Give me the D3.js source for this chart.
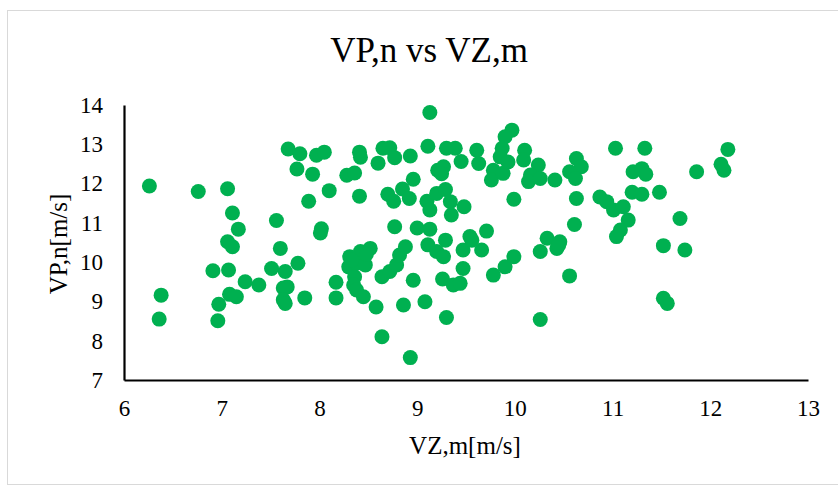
<!DOCTYPE html>
<meta charset="utf-8">
<style>
    body { margin: 0; background: #fff; }
    text { font-family: "Liberation Serif", "Times New Roman", serif; fill: #000; }
</style>
<svg width="838" height="486"></svg>
<script src="https://d3js.org/d3.v7.min.js"></script>
<script>
    // VZ,m values (x) and matching VP,n values (y)
    var vz = [
        6.26, 6.38, 6.36, 6.76, 7.06, 6.91, 7.07, 6.97, 6.96, 7.11, 7.17, 7.06, 7.11, 7.24, 7.38, 7.08, 7.15,
        7.51, 7.56, 7.60, 7.65, 7.67, 7.63, 7.63, 7.65, 7.68, 7.80, 7.77, 7.78, 7.85, 7.89, 7.93, 7.97, 8.05,
        8.01, 8.02, 8.10, 8.17, 8.17, 8.28, 8.36, 8.41, 8.42, 8.41, 8.60, 8.65, 8.72, 8.77, 8.93, 8.96,
        8.70, 8.76, 8.85, 8.92, 8.77,
        8.31, 8.42, 8.52, 8.30, 8.38, 8.47, 8.36, 8.35, 8.38, 8.45, 8.33, 8.48,
        8.58, 8.64, 8.93, 8.64, 8.72, 8.79, 8.82, 8.88, 8.96, 8.86,
        9.00, 9.13, 9.08, 9.30, 9.11, 9.20, 9.27, 9.29, 9.47, 9.47, 9.26, 9.37, 9.44,
        9.13, 9.11, 9.10, 9.13, 9.20, 9.29, 9.34, 9.35, 9.48, 9.21, 9.27, 9.25, 9.30, 9.39, 9.45,
        9.97, 9.90, 9.61, 9.63, 9.87, 9.85, 9.78, 9.76, 9.88, 9.93, 9.99, 9.71, 9.54, 9.56, 9.66,
        9.78, 9.90, 9.99,
        10.10, 10.09, 10.24, 10.16, 10.14, 10.26, 10.41, 10.63, 10.68, 10.56, 10.62, 11.03, 11.21, 11.30,
        11.34, 11.33, 10.63, 10.87, 10.94, 11.01, 11.11, 11.20, 11.30, 11.48, 11.16, 11.08, 11.04, 10.61,
        10.33, 10.46, 10.26, 10.43, 10.45, 10.56, 10.26, 11.69, 11.52, 11.74, 11.52, 11.56, 11.86, 12.11,
        12.14, 12.18
    ];
    var vp = [
        11.94, 9.16, 8.55, 11.80, 11.87, 9.78, 9.80, 8.93, 8.51, 11.25, 10.84, 10.52, 10.39, 9.50, 9.42, 9.18, 9.12,
        9.84, 11.06, 10.35, 9.76, 9.37, 9.34, 9.04, 8.95, 12.88, 12.76, 12.37, 9.97, 9.09, 11.55, 12.24, 12.72, 12.80,
        10.74, 10.85, 11.82, 9.49, 9.09, 12.21, 12.27, 12.80, 12.67, 11.68, 12.52, 12.90, 12.91, 12.66, 12.70, 12.11,
        11.73, 11.55, 11.86, 11.62, 10.90,
        10.14, 10.27, 10.35, 9.88, 9.97, 9.93, 9.63, 9.42, 9.29, 9.12, 10.05, 10.20,
        8.86, 8.10, 7.57, 9.63, 9.76, 9.93, 10.18, 10.39, 9.54, 8.91,
        10.87, 10.84, 8.99, 8.59, 10.44, 10.27, 10.14, 10.56, 10.31, 9.84, 9.57, 9.42, 9.46,
        13.81, 12.95, 11.55, 11.33, 11.75, 11.85, 11.54, 11.20, 11.41, 12.34, 12.43, 12.25, 12.90, 12.90, 12.56,
        13.36, 13.19, 12.85, 12.51, 12.90, 12.68, 12.34, 12.09, 12.26, 12.55, 11.60, 10.79, 10.65, 10.56, 10.31,
        9.67, 9.88, 10.14,
        12.85, 12.60, 12.47, 12.22, 12.05, 12.13, 12.09, 12.64, 12.43, 12.30, 12.13, 12.90, 12.30, 12.38,
        12.24, 12.90, 11.62, 11.66, 11.54, 11.33, 11.41, 11.78, 11.73, 11.78, 11.07, 10.82, 10.65, 10.96,
        10.61, 10.52, 10.27, 10.35, 10.44, 9.65, 8.54, 11.11, 10.42, 10.31, 9.08, 8.95, 12.30, 12.49,
        12.34, 12.87
    ];
    var xTicks = [6, 7, 8, 9, 10, 11, 12, 13];
    var yTicks = [7, 8, 9, 10, 11, 12, 13, 14];

    var svg = d3.select("svg");

    var margin = {left: 124, right: 808, top: 105, bottom: 380};
    var serif = "Liberation Serif, Times New Roman, serif";

    // light chart-area border
    svg.append("rect")
        .attr("x", 7.5).attr("y", 10.5)
        .attr("width", 840).attr("height", 474)
        .attr("fill", "#fff")
        .attr("stroke", "#d9d9d9");

    var x = d3.scaleLinear().domain([6, 13]).range([margin.left, margin.right]);
    var y = d3.scaleLinear().domain([7, 14]).range([margin.bottom, margin.top]);

    var xAxis = svg.append("g")
        .attr("transform", "translate(0," + margin.bottom + ")")
        .call(d3.axisBottom(x).tickValues(xTicks).tickFormat(d3.format("d")).tickSize(0).tickPadding(20));
    var yAxis = svg.append("g")
        .attr("transform", "translate(" + margin.left + ",0)")
        .call(d3.axisLeft(y).tickValues(yTicks).tickFormat(d3.format("d")).tickSize(0).tickPadding(21));

    [xAxis, yAxis].forEach(function (a) {
        a.attr("font-family", serif).attr("font-size", 23);
        a.select(".domain").attr("stroke", "#000").attr("stroke-width", 2.2);
        a.selectAll("text").attr("fill", "#000");
    });

    // points
    svg.append("g")
        .selectAll("circle")
        .data(vz.map(function (d, i) { return [d, vp[i]]; }))
        .enter().append("circle")
        .attr("cx", function (d) { return x(d[0]); })
        .attr("cy", function (d) { return y(d[1]); })
        .attr("r", 7.5)
        .attr("fill", "#00b050");

    // titles
    svg.append("text")
        .attr("x", 429).attr("y", 62)
        .attr("text-anchor", "middle")
        .attr("font-family", serif)
        .attr("font-size", 35)
        .text("VP,n vs VZ,m");

    svg.append("text")
        .attr("x", 465).attr("y", 454)
        .attr("text-anchor", "middle")
        .attr("font-family", serif)
        .attr("font-size", 25)
        .text("VZ,m[m/s]");

    svg.append("text")
        .attr("transform", "translate(67,244) rotate(-90)")
        .attr("text-anchor", "middle")
        .attr("font-family", serif)
        .attr("font-size", 25)
        .text("VP,n[m/s]");
</script>
